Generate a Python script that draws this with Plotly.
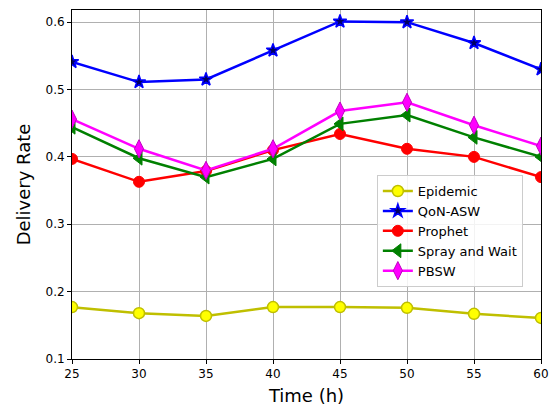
import plotly.graph_objects as go

hours = [25, 30, 35, 40, 45, 50, 55, 60]
epidemic = [0.177, 0.168, 0.164, 0.177, 0.177, 0.176, 0.167, 0.161]
qon_asw = [0.541, 0.511, 0.515, 0.558, 0.601, 0.600, 0.569, 0.530]
prophet = [0.397, 0.363, 0.379, 0.410, 0.434, 0.412, 0.400, 0.370]
spray_wait = [0.444, 0.398, 0.370, 0.397, 0.449, 0.462, 0.429, 0.400]
pbsw = [0.456, 0.412, 0.380, 0.412, 0.468, 0.481, 0.447, 0.416]

series = [
    ("Epidemic", epidemic, "#bfbf00", dict(symbol="circle", size=11, color="#ffff00", line=dict(color="#bfbf00", width=1.5))),
    ("QoN-ASW", qon_asw, "#0000ff", dict(symbol="star", size=10, color="#000060", line=dict(color="#0000ff", width=1.5))),
    ("Prophet", prophet, "#ff0000", dict(symbol="circle", size=11, color="#ff0000", line=dict(color="#ff0000", width=1))),
    ("Spray and Wait", spray_wait, "#008000", dict(symbol="triangle-left", size=12, color="#008000", line=dict(color="#008000", width=1))),
    ("PBSW", pbsw, "#ff00ff", dict(symbol="diamond-tall", size=13, color="#ff00ff", line=dict(color="#bf00bf", width=1))),
]

fig = go.Figure()
for name, vals, col, mk in series:
    fig.add_trace(go.Scatter(x=hours, y=vals, name=name, mode="lines+markers",
                             line=dict(color=col, width=2.5), marker=mk))

axis_common = dict(showline=True, linecolor="black", linewidth=1, mirror=True,
                   showgrid=True, gridcolor="#b0b0b0", gridwidth=1,
                   ticks="outside", ticklen=4, tickcolor="black",
                   tickfont=dict(family="DejaVu Sans", size=12, color="black"),
                   zeroline=False, automargin=False)

fig.update_layout(
    width=557, height=406,
    margin=dict(l=72, r=16, t=10, b=47),
    paper_bgcolor="white", plot_bgcolor="white",
    font=dict(family="DejaVu Sans", color="black"),
    xaxis=dict(axis_common, range=[25, 60], tickvals=hours,
               title=dict(text="Time (h)", font=dict(size=18), standoff=9)),
    yaxis=dict(axis_common, range=[0.1, 0.618], tickvals=[0.1, 0.2, 0.3, 0.4, 0.5, 0.6],
               tickformat=".1f",
               title=dict(text="Delivery Rate", font=dict(size=18), standoff=10)),
    legend=dict(x=0.65, y=0.527, xanchor="left", yanchor="top",
                bgcolor="rgba(255,255,255,0.85)", bordercolor="#cccccc", borderwidth=1,
                font=dict(size=13), tracegroupgap=0),
    showlegend=True,
)

fig.write_html("out.html")
